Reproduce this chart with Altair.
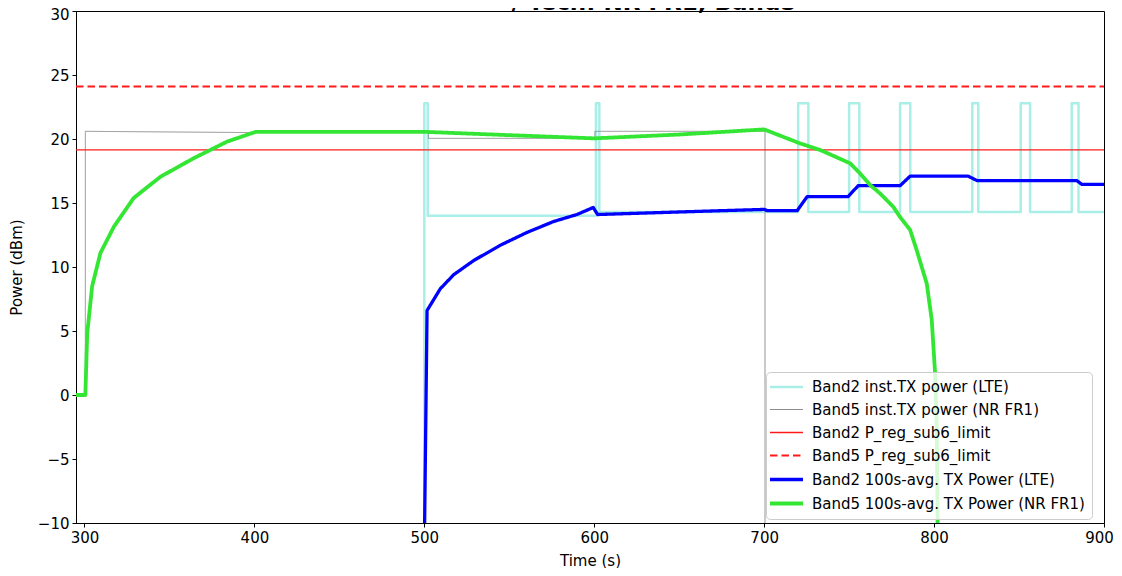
import altair as alt
import pandas as pd

# ---------------- data ----------------
series_names = [
    "Band2 inst.TX power (LTE)",
    "Band5 inst.TX power (NR FR1)",
    "Band2 P_reg_sub6_limit",
    "Band5 P_reg_sub6_limit",
    "Band2 100s-avg. TX Power (LTE)",
    "Band5 100s-avg. TX Power (NR FR1)",
]
series_colors = ["#aaeee8", "#8c8c8c", "#ff1a1a", "#ff1a1a", "#0000ff", "#33e633"]
series_widths = [2.5, 1.0, 1.3, 2.0, 3.3, 3.8]
series_dashes = [[1, 0], [1, 0], [1, 0], [7.5, 4], [1, 0], [1, 0]]

# Band2 instantaneous TX power (LTE)
b2_inst_t = [500, 500, 502, 502, 601, 601, 603, 603,
             720, 720, 726, 726, 750, 750, 756, 756,
             780, 780, 786, 786, 822.5, 822.5, 826, 826,
             851, 851, 856.5, 856.5, 881, 881, 885, 885, 900]
b2_inst_v = [-12, 22.8, 22.8, 14.0, 14.0, 22.8, 22.8, 14.3,
             14.3, 22.8, 22.8, 14.3, 14.3, 22.8, 22.8, 14.3,
             14.3, 22.8, 22.8, 14.3, 14.3, 22.8, 22.8, 14.3,
             14.3, 22.8, 22.8, 14.3, 14.3, 22.8, 22.8, 14.3, 14.3]

# Band5 instantaneous TX power (NR FR1)
b5_inst_t = [295, 300.5, 300.5, 350, 400, 450, 502.4, 502.4, 600.4, 600.4, 700.5, 700.5]
b5_inst_v = [0, 0, 20.6, 20.55, 20.5, 20.55, 20.5, 20.05, 20.05, 20.6, 20.6, -12]

# regulatory limits
limit_t = [295, 900]
b2_limit = 19.15
b5_limit = 24.1

# Band2 100s-average (LTE)
b2_avg_t = [500, 501.6, 509.4, 517.3, 529, 544.7, 560.4, 576, 589.8, 599.4, 602,
            650, 700, 702, 719.4, 725.3, 749.4, 755.3, 780, 785.9, 820, 825.3,
            884, 887, 900]
b2_avg_v = [-12, 6.6, 8.3, 9.4, 10.5, 11.7, 12.7, 13.55, 14.1, 14.65, 14.1,
            14.3, 14.5, 14.4, 14.4, 15.5, 15.5, 16.35, 16.35, 17.1, 17.1, 16.75,
            16.75, 16.45, 16.45]

# Band5 100s-average (NR FR1)
b5_avg_t = [295, 300.5, 301.6, 304.5, 309.4, 317.3, 329, 344.7, 364.3, 384, 400.6,
            450, 502, 550, 600, 650, 700, 721, 733, 750.6, 756.5, 762.4, 768.2,
            776, 780, 785.9, 789.8, 795.7, 798.6, 800.6, 801.6, 802.2]
b5_avg_v = [0, 0, 4.8, 8.5, 11.1, 13.15, 15.4, 17.05, 18.5, 19.8, 20.55,
            20.55, 20.55, 20.3, 20.05, 20.35, 20.75, 19.66, 19.14, 18.1, 17.3, 16.4, 15.75,
            14.7, 13.9, 12.9, 11.3, 8.7, 5.9, 1.7, -2.7, -12]

title_text = "/ Tech: NR FR1, Band5"
x_ticks = [300, 400, 500, 600, 700, 800, 900]
y_ticks = [-10, -5, 0, 5, 10, 15, 20, 25, 30]


def frame(name, ts, vs):
    return pd.DataFrame({"t": ts, "v": vs, "series": name, "idx": list(range(len(ts)))})


frames = [
    frame(series_names[0], b2_inst_t, b2_inst_v),
    frame(series_names[1], b5_inst_t, b5_inst_v),
    frame(series_names[2], limit_t, [b2_limit] * len(limit_t)),
    frame(series_names[3], limit_t, [b5_limit] * len(limit_t)),
    frame(series_names[4], b2_avg_t, b2_avg_v),
    frame(series_names[5], b5_avg_t, b5_avg_v),
]

FONT = "DejaVu Sans"

x_enc = alt.X("t:Q", scale=alt.Scale(domain=[295, 900], nice=False, zero=False),
              axis=alt.Axis(values=x_ticks, title="Time (s)",
                            labelOffset={"condition": {"test": "datum.value == 900", "value": -5},
                                         "value": 0}))
y_enc = alt.Y("v:Q", scale=alt.Scale(domain=[-10, 30], nice=False, zero=False),
              axis=alt.Axis(values=y_ticks, title="Power (dBm)",
                            labelOffset={"condition": {"test": "datum.value == 30", "value": 3},
                                         "value": 0}))
color_enc = alt.Color("series:N", scale=alt.Scale(domain=series_names, range=series_colors),
                      legend=alt.Legend(title=None))
dash_enc = alt.StrokeDash("series:N", scale=alt.Scale(domain=series_names, range=series_dashes),
                          legend=alt.Legend(title=None))
width_enc = alt.StrokeWidth("series:N",
                            scale=alt.Scale(type="ordinal", domain=series_names, range=series_widths),
                            legend=alt.Legend(title=None))

layers = []
for df in frames:
    layers.append(
        alt.Chart(df).mark_line(clip=True, strokeJoin="round").encode(
            x=x_enc, y=y_enc, color=color_enc, strokeDash=dash_enc,
            strokeWidth=width_enc, order=alt.Order("idx:Q"),
        )
    )

title_layer = alt.Chart(pd.DataFrame({"title": [title_text]})).mark_text(
    font=FONT, fontWeight="bold", fontSize=23, align="center", baseline="alphabetic",
    color="black",
).encode(text="title:N", x=alt.value(578), y=alt.value(-1))

chart = alt.layer(*layers, title_layer).properties(
    width=1028, height=512,
    autosize=alt.AutoSizeParams(type="none"),
    padding={"left": 68, "top": 3, "right": 10, "bottom": 45},
).configure_view(
    stroke="black", strokeWidth=1,
).configure_axis(
    grid=False, domainColor="black", tickColor="black", tickSize=4,
    labelFont=FONT, labelFontSize=15, labelColor="black", labelPadding=3,
    titleFont=FONT, titleFontSize=15, titleFontWeight="normal", titleColor="black",
    labelFlush=False,
).configure_axisX(
    titlePadding=8,
).configure_axisY(
    titlePadding=13,
).configure_legend(
    orient="none", legendX=690, legendY=361,
    symbolType="M-2.54,0L2.54,0", symbolSize=169, symbolOffset=5,
    labelFont=FONT, labelFontSize=15, labelColor="black", labelLimit=400,
    labelOffset=17, rowPadding=7, padding=7,
    fillColor="rgba(255,255,255,0.8)", strokeColor="#cccccc", cornerRadius=4,
)

chart.save("out.html", embed_options={"renderer": "svg", "actions": False})
